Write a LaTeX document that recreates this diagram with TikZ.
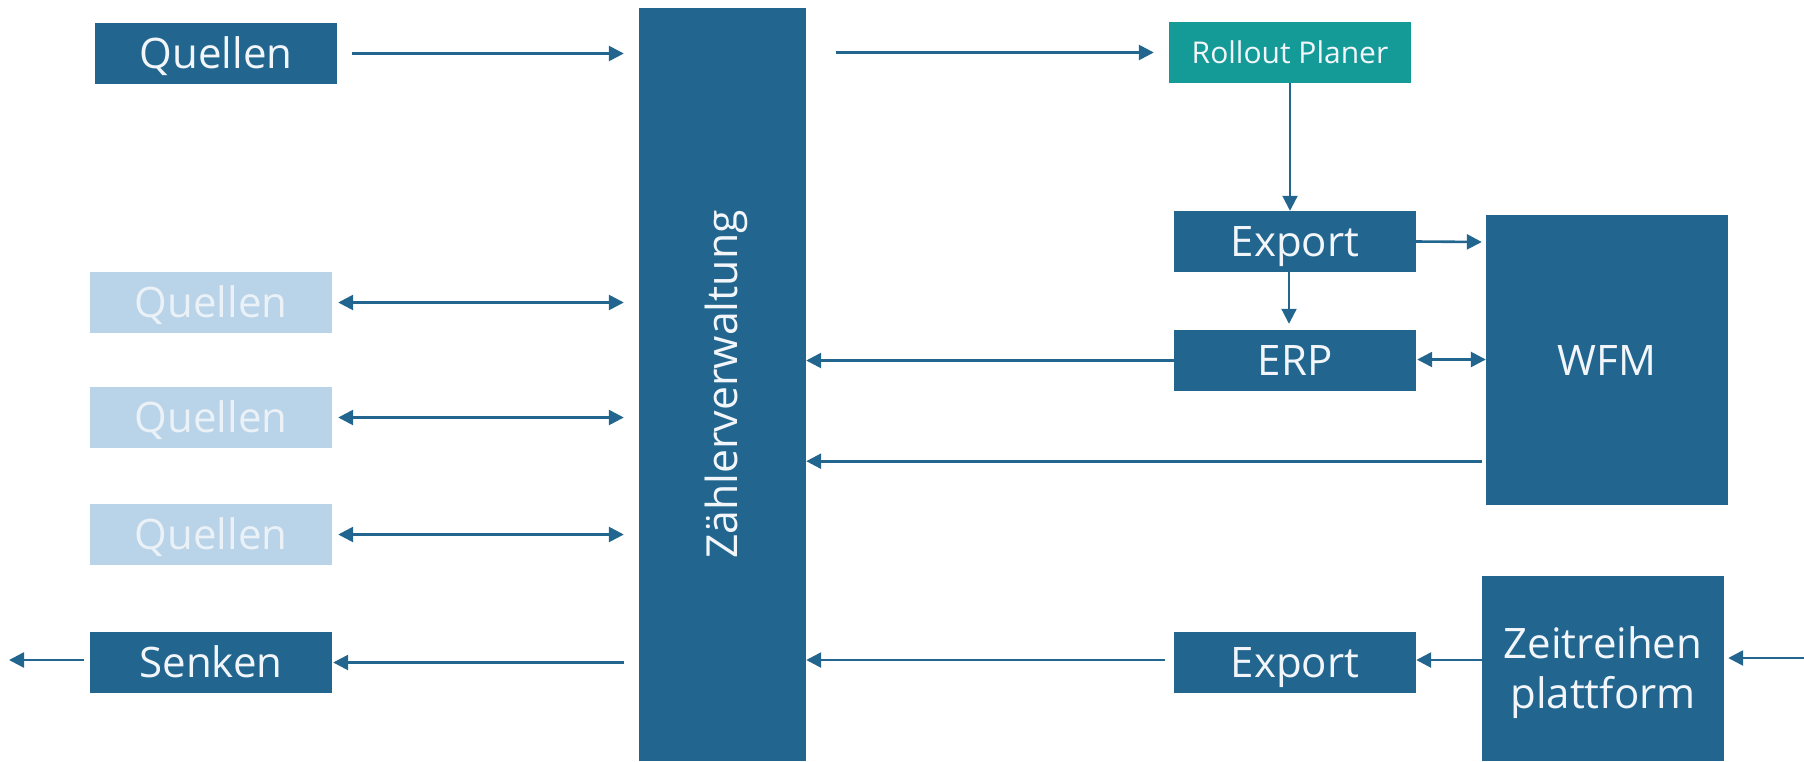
\documentclass[tikz,border=0pt]{standalone}
\usepackage{fontspec}
\setmainfont{Open Sans}
\usetikzlibrary{arrows.meta,calc}
\definecolor{navy}{RGB}{34,102,143}
\definecolor{teal}{RGB}{20,155,152}
\definecolor{pale}{RGB}{185,211,232}
\definecolor{paletext}{RGB}{234,241,247}
\definecolor{boxtext}{RGB}{242,246,250}
\begin{document}
\begin{tikzpicture}[x=1pt,y=-1pt,
  box/.style={fill=navy, text=boxtext, inner sep=0pt, minimum width=242pt,
    minimum height=61pt, font=\fontsize{42}{50}\selectfont,
    text height=30pt, text depth=0pt},
  palebox/.style={box, fill=pale, text=paletext},
  planbox/.style={box, fill=teal, font=\fontsize{30}{36}\selectfont, text height=21.4pt},
  arr/.style={draw=navy, line width=2.6pt, -{Triangle[length=15pt,width=15pt]}},
  arrv/.style={arr, line width=2pt},
  darr/.style={draw=navy, line width=2.6pt,
    {Triangle[length=15pt,width=15pt]}-{Triangle[length=15pt,width=15pt]}}]
\useasboundingbox (0,0) rectangle (1804,761);

% sources and sink on the left
\node[box] (q1) at (216,53.5) {Quellen};
\node[palebox] (q2) at (211,302.5) {Quellen};
\node[palebox] (q3) at (211,417.5) {Quellen};
\node[palebox] (q4) at (211,534.5) {Quellen};
\node[box] (sk) at (211,662.5) {Senken};

% central meter management column
\node[fill=navy, text=boxtext, inner sep=0pt, minimum width=167pt, minimum height=753pt,
  font=\fontsize{42.8}{50}\selectfont] (zv) at (722.5,384.5)
  {\rotatebox{90}{\raisebox{0pt}[30.5pt][0pt]{Zählerverwaltung}}};

% right-hand systems
\node[planbox] (rp) at (1290,52.5) {Rollout Planer};
\node[box] (e1) at (1295,241.5) {Export};
\node[box] (erp) at (1295,360.5) {ERP};
\node[box, minimum height=290pt] (wfm) at (1607,360) {WFM};
\node[box] (e2) at (1295,662.5) {Export};
\node[box, minimum height=185pt, align=center, text height=80pt, text depth=0pt]
  (zr) at (1603,668.5) {Zeitreihen\\plattform};

\coordinate (out) at (9,660);
\coordinate (in) at (1804,658);

% connectors
\draw[arr] ($(q1.east)+(15,0)$) -- ($(zv.west |- q1.east)+(-15,0)$);
\draw[arr] ($(zv.east |- rp.west)+(30,0)$) -- ($(rp.west)+(-15,0)$);
\draw[arrv] (rp.south) -- (rp.south |- e1.north);
\draw[arrv] ($(e1.south)+(-6,0)$) -- ($(erp.north)+(-6,-6)$);
\draw[arr] (e1.east) -- ($(wfm.west |- e1.east)+(-4,0.5)$);
\draw[darr] ($(erp.east)+(1,-1)$) -- ($(wfm.west |- erp.east)+(0,-1)$);
\draw[arr] (erp.west) -- (zv.east |- erp.west);
\draw[arr] ($(wfm.south west)+(-4,-44)$) -- ($(zv.east |- wfm.south west)+(0,-44)$);

\draw[darr] ($(q2.east)+(6,0)$) -- ($(zv.west |- q2.east)+(-15,0)$);
\draw[darr] ($(q3.east)+(6,0)$) -- ($(zv.west |- q3.east)+(-15,0)$);
\draw[darr] ($(q4.east)+(6,0)$) -- ($(zv.west |- q4.east)+(-15,0)$);

\draw[arr] ($(zv.west |- sk.east)+(-15,0)$) -- ($(sk.east)+(1,0)$);
\draw[arr] ($(sk.west |- out)+(-6,0)$) -- (out);

\draw[arr] ($(e2.west)+(-9,-2.5)$) -- ($(zv.east |- e2.west)+(0,-2.5)$);
\draw[arr] ($(zr.west |- e2.east)+(0,-2.5)$) -- ($(e2.east)+(0,-2.5)$);
\draw[arr] (in) -- ($(zr.east |- in)+(4,0)$);
\end{tikzpicture}
\end{document}
